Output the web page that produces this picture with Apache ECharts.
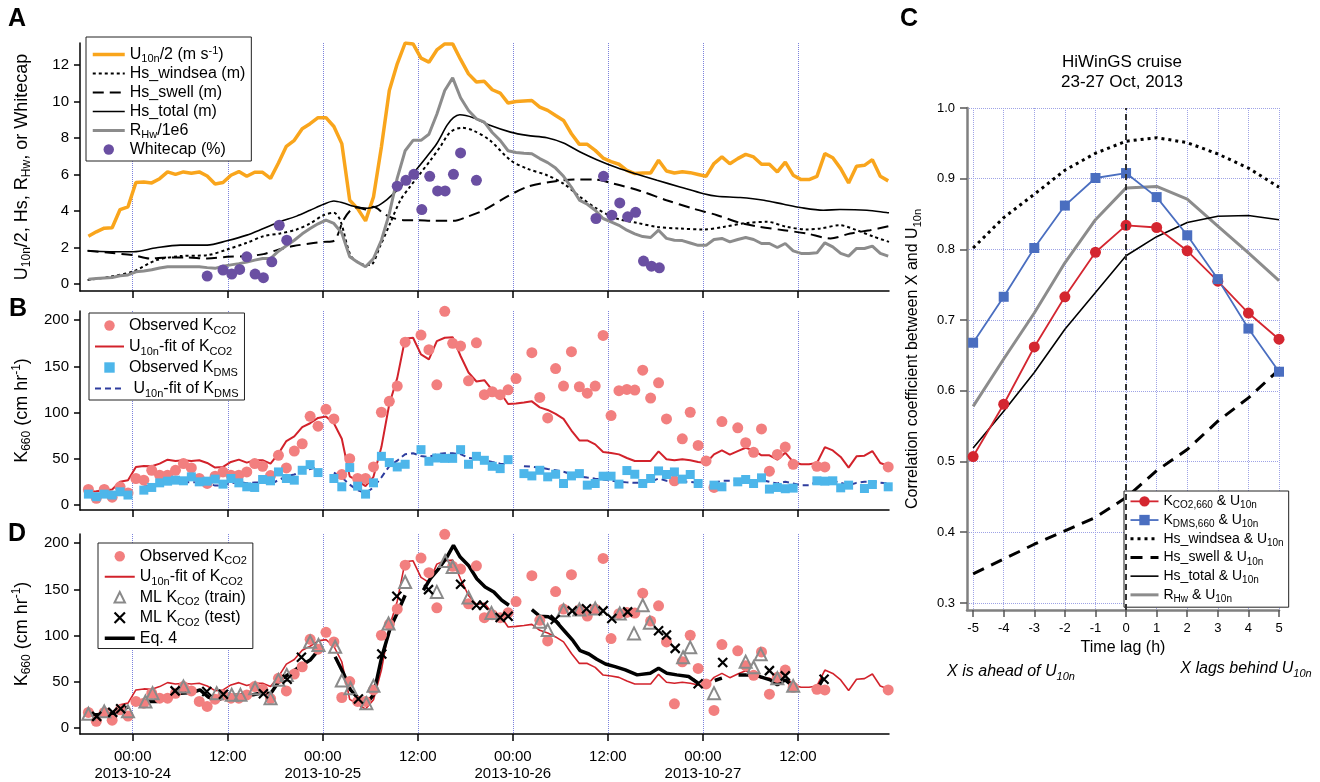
<!DOCTYPE html>
<html>
<head>
<meta charset="utf-8">
<script src="https://cdn.jsdelivr.net/npm/echarts@6/dist/echarts.min.js"></script>
<style>
html, body { margin: 0; padding: 0; background: #fff; }
#chart { width: 1320px; height: 782px; }
</style>
</head>
<body>
<div id="chart"></div>
<script>
// time axis: hours since 2013-10-24 00:00
const dayTicks = [0, 12, 24, 36, 48, 60, 72, 84];
const dayTickLabels = ['00:00\n2013-10-24', '12:00', '00:00\n2013-10-25', '12:00',
    '00:00\n2013-10-26', '12:00', '00:00\n2013-10-27', '12:00'];

// hourly samples
const hours = [-5.6, -4.6, -3.6, -2.6, -1.6, -0.6, 0.4, 1.4, 2.4, 3.4,
    4.4, 5.4, 6.4, 7.4, 8.4, 9.4, 10.4, 11.4, 12.4, 13.4,
    14.4, 15.4, 16.4, 17.4, 18.4, 19.4, 20.4, 21.4, 22.4, 23.4,
    24.4, 25.4, 26.4, 27.4, 28.4, 29.4, 30.4, 31.4, 32.4, 33.4,
    34.4, 35.4, 36.4, 37.4, 38.4, 39.4, 40.4, 41.4, 42.4, 43.4,
    44.4, 45.4, 46.4, 47.4, 48.4, 49.4, 50.4, 51.4, 52.4, 53.4,
    54.4, 55.4, 56.4, 57.4, 58.4, 59.4, 60.4, 61.4, 62.4, 63.4,
    64.4, 65.4, 66.4, 67.4, 68.4, 69.4, 70.4, 71.4, 72.4, 73.4,
    74.4, 75.4, 76.4, 77.4, 78.4, 79.4, 80.4, 81.4, 82.4, 83.4,
    84.4, 85.4, 86.4, 87.4, 88.4, 89.4, 90.4, 91.4, 92.4, 93.4,
    94.4, 95.4];

// panel A
const u10Half = [2.62, 2.86, 3.06, 3.08, 4.08, 4.23, 5.56, 5.59, 5.54, 5.77,
    6.14, 6.01, 6.14, 6.07, 6.14, 5.92, 5.48, 5.56, 5.96, 6.16,
    5.9, 6.12, 6.12, 5.79, 6.63, 7.54, 7.87, 8.51, 8.78, 9.11,
    9.11, 8.63, 7.69, 4.59, 4.13, 3.46, 4.77, 7.5, 10.6, 12.06,
    13.2, 13.15, 12.37, 12.15, 12.82, 13.15, 13.15, 12.3, 11.51, 11.06,
    11.1, 10.64, 10.46, 9.91, 10.0, 10.03, 10.05, 9.69, 9.51, 9.23,
    8.96, 8.23, 7.65, 7.65, 7.32, 6.9, 6.7, 6.56, 6.23, 6.05,
    6.08, 6.08, 6.78, 6.19, 6.08, 6.15, 6.1, 6.0, 5.9, 6.6,
    6.96, 6.59, 6.87, 7.1, 6.96, 6.56, 6.56, 6.14, 6.68, 5.96,
    5.72, 5.72, 5.9, 7.14, 6.92, 6.32, 5.54, 6.45, 6.5, 6.81,
    5.9, 5.65];
const rhw = [0.27, 0.3, 0.33, 0.36, 0.45, 0.5, 0.67, 0.72, 0.78, 0.88,
    0.95, 0.95, 0.95, 0.95, 0.95, 0.9, 0.86, 0.98, 1.05, 1.12,
    1.2, 1.31, 1.4, 1.4, 1.8, 2.1, 2.4, 2.75, 3.04, 3.3,
    3.5, 3.32, 2.8, 1.49, 1.2, 0.95, 1.4, 2.4, 3.86, 5.8,
    7.3, 7.87, 7.87, 8.2, 9.3, 10.6, 11.29, 10.2, 9.5, 9.05,
    8.87, 8.3, 7.87, 7.3, 7.2, 7.16, 7.14, 6.87, 6.65, 6.35,
    5.9, 5.3, 4.6, 4.37, 4.04, 3.59, 3.41, 3.22, 2.95, 2.75,
    2.6, 2.55, 2.95, 2.5, 2.4, 2.38, 2.25, 2.12, 2.12, 2.44,
    2.5, 2.31, 2.44, 2.55, 2.44, 2.22, 2.22, 2.0, 2.22, 1.82,
    1.68, 1.68, 1.71, 2.26, 2.04, 1.68, 1.53, 1.95, 1.95, 2.08,
    1.68, 1.53];
const tTotal = [-5.7, -2.9, 0.1, 3.0, 6.0, 9.4, 11.9, 14.4, 16.5, 18.6,
    20.7, 22.4, 24.1, 25.4, 26.6, 27.9, 29.6, 30.8, 32.1, 33.4,
    34.6, 35.9, 37.1, 38.4, 39.7, 40.5, 41.3, 43.0, 45.1, 47.7,
    49.8, 52.3, 54.4, 56.5, 58.6, 61.1, 63.7, 66.2, 69.1, 72.1,
    73.8, 76.7, 79.7, 82.2, 84.3, 87.2, 89.3, 92.7, 95.5];
const hsTotal = [1.82, 1.77, 1.77, 1.99, 2.13, 2.13, 2.37, 2.68, 3.04, 3.41,
    3.72, 4.04, 4.37, 4.55, 4.44, 4.26, 4.15, 4.26, 4.63, 5.14,
    5.68, 6.32, 6.96, 7.7, 8.7, 9.11, 9.27, 9.11, 8.69, 8.32,
    8.14, 8.01, 7.72, 7.23, 6.81, 6.38, 6.01, 5.68, 5.32, 4.95,
    4.81, 4.74, 4.59, 4.37, 4.19, 4.04, 4.08, 4.04, 3.9];
const tWindsea = [-5.7, -2.9, 0.1, 3.0, 6.0, 9.4, 11.9, 14.4, 16.5, 18.6,
    20.7, 22.4, 24.1, 25.4, 26.2, 27.5, 28.7, 30.0, 31.2, 32.5,
    33.8, 35.0, 36.3, 37.6, 38.8, 40.1, 41.6, 43.0, 45.1, 47.7,
    49.8, 52.3, 54.4, 56.5, 58.6, 61.1, 63.7, 66.2, 69.1, 72.1,
    74.6, 77.6, 80.1, 82.6, 85.1, 86.8, 89.3, 91.4, 93.6, 95.5];
const hsWindsea = [0.22, 0.4, 0.7, 1.31, 1.53, 1.58, 1.89, 2.26, 2.62, 2.77,
    2.99, 3.32, 3.77, 3.9, 3.5, 1.58, 1.13, 1.04, 2.04, 3.32,
    4.59, 5.32, 6.05, 6.78, 7.5, 8.32, 8.56, 8.41, 7.87, 6.78,
    6.32, 5.96, 5.5, 4.77, 4.13, 3.59, 3.35, 3.13, 3.04, 2.99,
    3.13, 3.35, 3.41, 3.13, 2.99, 3.04, 3.22, 2.95, 2.59, 2.31];
const tSwell = [-5.7, -2.9, 0.1, 2.2, 4.3, 6.8, 9.4, 11.9, 14.4, 16.5,
    18.2, 20.3, 22.4, 24.1, 25.4, 26.6, 27.5, 28.3, 29.6, 30.4,
    31.7, 32.7, 34.2, 35.9, 37.9, 40.5, 42.2, 44.3, 47.2, 49.8,
    52.7, 55.7, 58.2, 60.7, 64.1, 67.4, 70.8, 73.8, 76.7, 79.2,
    82.2, 85.1, 88.1, 90.6, 93.1, 95.5];
const hsSwell = [1.82, 1.71, 1.58, 1.4, 1.46, 1.46, 1.4, 1.49, 1.53, 1.64,
    1.86, 2.08, 2.22, 2.31, 2.37, 3.5, 4.04, 4.19, 4.08, 4.23,
    3.86, 3.64, 3.5, 3.5, 3.46, 3.46, 3.68, 4.04, 4.77, 5.32,
    5.59, 5.72, 5.72, 5.5, 5.1, 4.59, 4.13, 3.77, 3.35, 3.13,
    2.95, 2.77, 2.5, 2.77, 2.95, 3.17];
const tWhitecap = [9.4, 11.4, 12.5, 13.5, 14.4, 15.45, 16.5, 17.56, 18.5, 19.45,
    33.4, 34.5, 35.5, 36.5, 37.5, 38.5, 39.45, 40.5, 41.4, 43.4,
    58.5, 59.45, 60.5, 61.5, 62.5, 63.5, 64.5, 65.5, 66.5];
const whitecap = [0.44, 0.77, 0.55, 0.8, 1.49, 0.55, 0.35, 1.22, 3.22, 2.4,
    5.36, 5.68, 6.01, 4.08, 5.9, 5.1, 5.1, 6.01, 7.18, 5.68,
    3.59, 5.9, 3.77, 4.44, 3.68, 3.93, 1.26, 0.98, 0.89];

// panel B (and D)
const kco2Obs = [16.8, 7.2, 16.8, 8.5, 19.7, 13, 28.7, 26.9, 37.6, 32.3,
    32.3, 37.6, 44.8, 40.1, 28.7, 23.3, 31.2, 35.8, 32.3, 32.3,
    35.8, 44.8, 41.9, 31.9, 53.8, 40.1, 58.4, 66.3, 96, 85.3,
    103.6, 93.2, 33, 50.2, 28.7, 28.7, 41.2, 100.4, 112.2, 128.7,
    176.3, null, 183.9, 168.1, 130.1, 209.7, 175, 172, 134.4, 175.6,
    119.4, 122.6, 119.4, 124.7, 136.9, null, 164.9, 116.5, 94.3, 147.7,
    128.7, 166, 128, 121.1, 128.7, 183.5, 96.8, 123.7, 125.1, 124.4,
    145.9, 115.8, 132.3, 93.2, 26.2, 71.7, 100.4, 64.5, 47.7, 19,
    90.3, null, 83.5, 67.4, 57, 82.4, 36.6, 54.8, 62.7, 44.1,
    null, null, 41.9, 41.2, null, null, null, null, null, null,
    null, 41.2];
const kco2Fit = [14.3, 15, 16.1, 16.8, 25.1, 26.9, 41.2, 42.3, 41.9, 44.8,
    49.1, 47.7, 48.4, 47.7, 48.4, 45.5, 40.5, 41.2, 46.6, 49.1,
    45.9, 48.4, 48.4, 44.8, 55.6, 69.2, 74.2, 84.2, 88.5, 94.3,
    95.7, 88.5, 71.7, 31, 26, 20.5, 30.5, 62.7, 109.3, 137.3,
    180, 181, 163, 157.7, 177.4, 181, 181.7, 161.3, 143.4, 133.7,
    135.1, 124.4, 121.9, 109.3, 110, 111, 112.2, 105.7, 102.9, 98.6,
    93.2, 80.6, 69.9, 69.9, 65.6, 57.3, 56.3, 54.8, 50.9, 47.7,
    47.7, 47.7, 58.1, 49.5, 48.4, 49.5, 48.4, 46.6, 45.5, 54.8,
    59.1, 54.5, 58.4, 62, 59.1, 53.8, 53.8, 49.1, 56.6, 46.6,
    44.1, 44.1, 45.5, 62.7, 59.1, 52, 40.5, 52.7, 53.4, 58.4,
    45.5, 42.3];
const kdmsObs = [11.8, 9, 11.8, 10.8, 14.3, 10.8, null, 16.1, 19, 24,
    25.8, 26.9, 26.2, 30.5, 25.1, 25.8, 28, 22.6, 28.7, 24,
    19.7, 19, 27.6, 26.2, 35.8, 28.7, 26.9, 37.6, 43.7, 35.1,
    null, 28.7, 19.7, 40.5, 20.4, 11.8, 24, 52.7, 45.9, 41.2,
    44.1, null, 59.9, 47.3, 50.9, 50.5, 50.5, 59.9, 44.1, 52.7,
    48.4, 41.9, 39.4, 49.1, null, 34, 31.5, 37.6, 30.5, 33.3,
    23.3, 31.5, 34, 21.5, 23.3, 31.2, 31.2, 22.6, 37.3, 33.3,
    23.3, 28.7, 36.9, 33, 35.8, 28, 33, 23.3, null, 21.5,
    19.7, null, 25.1, 27.6, 23.3, 29.4, 17.2, 19, 17.6, 18.3,
    null, null, 26.2, 25.8, 26.2, 18.6, 21.5, null, 17.9, 22.2,
    null, 19.7];
const kdmsFit = [9.7, 10, 10.8, 11.5, 14.3, 15, null, 20, 20.5, 22,
    24.5, 24, 25, 24.5, 25, 24, 21, 21.5, 23.5, 25,
    23.5, 24.5, 24.5, 22.5, 27, 31, 33, 37, 39, 41,
    null, 35, 30, 22, 16, 13, 19, 30, 42, 48,
    55, 56, 53, 52, 55, 56, 56, 55, 51, 50,
    48.5, 46.6, 44.8, 44, null, 42, 41.5, 40.5, 39, 37.6,
    36, 33.3, 31, 29.7, 28.5, 27.6, 26.5, 25.1, 24.5, 24,
    24, 25.1, 28.7, 26.2, 25.1, 25.1, 25.1, 24, null, 24,
    26.2, 26.2, 26.9, 27.6, 26.2, 26.9, 25.1, 23.3, 25.1, 23.3,
    21.5, 21.5, 25.1, 27.6, 26.2, 24, 21.5, 24, 25.1, 25.1,
    24, 23.3];

// panel D
const tTrain = [-5.6, -3.6, -0.6, 1.6, 2.5, 6.4, 10.6, 12.5, 13.6, 15.45,
    17.4, 18.4, 19.45, 22.4, 23.45, 25.56, 26.4, 27.5, 29.5, 30.4,
    32.3, 34.4, 38.4, 39.45, 40.4, 42.4, 45.3, 51.4, 52.4, 54.4,
    56.4, 58.4, 61.5, 63.3, 64.4, 65.3, 69.5, 70.4, 73.4, 77.4,
    78.4, 79.3, 81.4, 83.4];
const mlTrain = [15.4, 18, 18, 28.7, 37.7, 44.9, 37.7, 35.9, 35.9, 43.1,
    32.3, 52.1, 57.5, 93.4, 89.8, 88, 51.4, 43.1, 26.9, 45.6,
    113.1, 158, 147.3, 180.7, 174.2, 141.2, 124.6, 114.9, 106, 127.5,
    128.2, 129.3, 123.9, 102.4, 132.9, 113.9, 76.5, 87.3, 37.7, 71.8,
    65.7, 79.7, 53.9, 45.6];
const tTest = [-4.55, -2.53, -1.52, 5.35, 9.35, 11.45, 16.5, 19.5, 21.3, 28.5,
    31.45, 33.35, 37.35, 41.4, 43.4, 44.3, 46.4, 47.4, 53.35, 55.5,
    57.3, 59.4, 60.5, 62.5, 66.4, 67.4, 68.5, 71.4, 74.5, 80.4,
    82.4, 87.3];
const mlTest = [12.6, 16.9, 20.8, 40.2, 39.5, 36.6, 37, 52.8, 76.5, 31.3,
    80.1, 142.6, 149.8, 155.5, 132.9, 132.9, 119.6, 121, 117.5, 126.8,
    129, 126.8, 118.5, 125.7, 105.2, 100.6, 86.2, 47.8, 70.8, 62.1,
    56.4, 52.8];
// null = gap in the Eq. 4 line
const tEq4 = [-5.73, -4.55, -2.44, -1.52, -0.55, 0.5,
    1.56, 3.03, 4.5, 6.0, 7.45, 8.5, 9.56, 10.6, 11.87, 13.56, 15.2, 16.5, 17.4, 18.6, 19.9, 21.1, 22.4, 23.45, 24.5,
    25.56, 26.6, 27.5, 28.5, 29.56, 30.4, 31.45, 32.5, 33.56, 34.4, 35.5,
    36.7, 37.6, 38.6, 39.6, 40.5, 41.35, 42.4, 43.45, 44.5, 45.6, 46.6, 47.5, 49,
    50.4, 51.4, 52.5, 53.5, 54.6, 55.6, 56.5, 57.6, 58.6, 59.7, 60.9, 62.2, 63.7, 65.35, 66.4, 67.45, 68.7, 70.2, 71.4, 72.5,
    73.5, 74.4, 75.5,
    76.5, 78, 79.2, 80.5, 81.4, 82.4, 83.4, 85,
    86.4, 87.2];
const eq4 = [14.4, 14.4, 15.4, 20.5, 22.6, null,
    28.7, 28.7, 32.3, 37.7, 38.4, 41.3, 33.4, 29.8, 34.1, 35.9, 35.9, 38.4, 37, 52.1, 59.3, 66.5, 73.6, 84.4, null,
    77.2, 59.3, 41.3, 32.3, 26.9, 35.9, 77.2, 107.8, 127.5, 143.7, null,
    149.1, 162, 172, 184, 197.6, 185, 176, 161.6, 152.7, 147.3, 138.3, 132.9, null,
    128.2, 121, 120.3, 114.9, 104.2, 94.5, 83.7, 80.1, 74.4, 69.3, 66.5, 62.9, 57.5, 59.3, 64.7, 59.3, 57.5, 55.7, 48.5, null,
    51.4, 53.9, null,
    57.5, 57.5, 55.7, 52.1, 46.7, 52.1, 44.9, null,
    41.3, 53.9];

// panel C: lag correlations
const lags = [-5, -4, -3, -2, -1, 0, 1, 2, 3, 4, 5];
const corrKco2 = [0.507, 0.581, 0.662, 0.733, 0.796, 0.834, 0.831, 0.798, 0.755, 0.710, 0.673];
const corrKdms = [0.668, 0.733, 0.802, 0.862, 0.901, 0.908, 0.874, 0.820, 0.758, 0.688, 0.627];
const corrWindsea = [0.802, 0.845, 0.878, 0.912, 0.936, 0.953, 0.958, 0.951, 0.935, 0.915, 0.888];
const corrSwell = [0.341, 0.362, 0.383, 0.402, 0.421, 0.449, 0.487, 0.517, 0.557, 0.590, 0.630];
const corrTotal = [0.519, 0.571, 0.626, 0.687, 0.739, 0.791, 0.818, 0.838, 0.847, 0.848, 0.842];
const corrRhw = [0.578, 0.645, 0.710, 0.781, 0.842, 0.887, 0.889, 0.871, 0.833, 0.795, 0.756];
const lagTicks = [-5, -4, -3, -2, -1, 0, 1, 2, 3, 4, 5];
const corrTicks = [0.3, 0.4, 0.5, 0.6, 0.7, 0.8, 0.9, 1.0];

const FONT = '"Liberation Sans", Arial, sans-serif';
const zip = (xs, ys) => xs.map((x, i) => [x, ys[i]]);

const rich = (size) => ({
    sub: { fontSize: size, lineHeight: size, verticalAlign: 'bottom', fontFamily: FONT, color: '#000' },
    sup: { fontSize: size, lineHeight: size, verticalAlign: 'top', fontFamily: FONT, color: '#000' }
});

const legendText = {
    'U10n/2 (m s-1)': 'U{sub|10n}/2 (m s{sup|-1})',
    'RHw/1e6': 'R{sub|Hw}/1e6',
    'Observed KCO2': 'Observed K{sub|CO2}',
    'U10n-fit of KCO2': 'U{sub|10n}-fit of K{sub|CO2}',
    'Observed KDMS': 'Observed K{sub|DMS}',
    'U10n-fit of KDMS': ' U{sub|10n}-fit of K{sub|DMS}',
    'ML KCO2 (train)': 'ML K{sub|CO2} (train)',
    'ML KCO2 (test)': 'ML K{sub|CO2} (test)',
    'KCO2,660 & U10n': 'K{sub|CO2,660} & U{sub|10n}',
    'KDMS,660 & U10n': 'K{sub|DMS,660} & U{sub|10n}',
    'Hs_windsea & U10n': 'Hs_windsea & U{sub|10n}',
    'Hs_swell & U10n': 'Hs_swell & U{sub|10n}',
    'Hs_total & U10n': 'Hs_total & U{sub|10n}',
    'RHw & U10n': 'R{sub|Hw} & U{sub|10n}'
};

const makeLegend = (names, left, top, opts) => ({
    data: names,
    orient: 'vertical',
    left, top,
    itemWidth: opts.itemWidth,
    itemHeight: 13,
    itemGap: 0,
    padding: opts.padding,
    borderColor: '#222',
    borderWidth: 1,
    backgroundColor: '#fff',
    selectedMode: false,
    lineStyle: { width: 'inherit' },
    itemStyle: { borderWidth: 'inherit' },
    formatter: name => legendText[name] || name,
    textStyle: {
        fontFamily: FONT, fontSize: opts.fontSize, color: '#000',
        lineHeight: opts.lineHeight, rich: rich(opts.subSize)
    }
});

const timeAxis = (gridIndex, showLabels) => ({
    type: 'value', gridIndex, min: -6.66, max: 95.5,
    axisLine: { show: true, onZero: false, lineStyle: { color: '#000', width: 1.5 } },
    axisTick: { show: true, length: 7, customValues: dayTicks, lineStyle: { color: '#000', width: 1.5 } },
    axisLabel: {
        show: showLabels, customValues: dayTicks, margin: 14, fontSize: 15, lineHeight: 17,
        fontFamily: FONT, color: '#000',
        formatter: v => dayTickLabels[dayTicks.indexOf(v)]
    },
    splitLine: { show: true, lineStyle: { color: '#7c82dc', type: 'dotted', width: 1 } }
});

const kAxis = (gridIndex, min) => ({
    type: 'value', gridIndex, min, max: 210,
    name: 'K{sub|660} (cm hr{sup|-1})', nameLocation: 'middle', nameGap: 41,
    nameTextStyle: { fontFamily: FONT, fontSize: 18, color: '#000', lineHeight: 22, rich: rich(12) },
    axisLine: { show: true, onZero: false, lineStyle: { color: '#000', width: 1.5 } },
    axisTick: { show: true, length: 6, customValues: [0, 50, 100, 150, 200], lineStyle: { color: '#000', width: 1.5 } },
    axisLabel: { customValues: [0, 50, 100, 150, 200], margin: 11, fontSize: 15, fontFamily: FONT, color: '#000' },
    splitLine: { show: false }
});

const ORANGE = '#F9A51C';
const GRAY = '#8C8C8C';
const PURPLE = '#6A4FA2';
const SALMON = '#F27F7F';
const RED = '#D2222B';
const SKY = '#4DB6EA';
const NAVY = '#2E3D9E';
const C_RED = '#D42630';
const C_BLUE = '#4A6EC0';

// plain line: its legend icon hides the marker
const line = (name, x, y, data, color, width, type, extra) => Object.assign({
    name, type: 'line', xAxisIndex: x, yAxisIndex: y, data, symbol: 'none',
    lineStyle: { color, width, type }, itemStyle: { color, opacity: 0 }, connectNulls: false
}, extra || {});

// marker-only series drawn as a line series with no visible line, so the legend keeps the marker's aspect
const points = (name, x, y, data, symbol, size, itemStyle) => ({
    name, type: 'line', xAxisIndex: x, yAxisIndex: y, data, symbol, symbolSize: size,
    showSymbol: true, showAllSymbol: true, connectNulls: false,
    lineStyle: { width: 0, opacity: 0, color: 'rgba(0,0,0,0)' }, itemStyle
});

const chart = echarts.init(document.getElementById('chart'));

chart.setOption({
    animation: false,
    backgroundColor: '#fff',
    textStyle: { fontFamily: FONT },
    grid: [
        { left: 80, top: 43, width: 809, height: 248 },
        { left: 80, top: 311, width: 809, height: 199 },
        { left: 80, top: 534, width: 809, height: 200 },
        { left: 967, top: 108, width: 312, height: 502 }
    ],
    xAxis: [
        timeAxis(0, false),
        timeAxis(1, false),
        timeAxis(2, true),
        {
            type: 'value', gridIndex: 3, min: -5.2, max: 5,
            name: 'Time lag (h)', nameLocation: 'middle', nameGap: 29,
            nameTextStyle: { fontFamily: FONT, fontSize: 16, color: '#000' },
            axisLine: { show: true, onZero: false, lineStyle: { color: '#808080', width: 2.5 } },
            axisTick: { show: true, length: 7, customValues: lagTicks, lineStyle: { color: '#555', width: 1.5 } },
            axisLabel: { customValues: lagTicks, margin: 12, fontSize: 13, fontFamily: FONT, color: '#000' },
            splitLine: { show: true, lineStyle: { color: '#9ea3e6', type: 'dotted', width: 1 } }
        }
    ],
    yAxis: [
        {
            type: 'value', gridIndex: 0, min: -0.38, max: 13.2,
            name: 'U{sub|10n}/2, Hs, R{sub|Hw}, or Whitecap', nameLocation: 'middle', nameGap: 47,
            nameTextStyle: { fontFamily: FONT, fontSize: 18, color: '#000', lineHeight: 22, rich: rich(12) },
            axisLine: { show: true, onZero: false, lineStyle: { color: '#000', width: 1.5 } },
            axisTick: { show: true, length: 6, customValues: [0, 2, 4, 6, 8, 10, 12], lineStyle: { color: '#000', width: 1.5 } },
            axisLabel: { customValues: [0, 2, 4, 6, 8, 10, 12], margin: 11, fontSize: 15, fontFamily: FONT, color: '#000' },
            splitLine: { show: false }
        },
        kAxis(1, -5.4),
        kAxis(2, -6.5),
        {
            type: 'value', gridIndex: 3, min: 0.29, max: 1.0,
            name: 'Correlation coefficient between X and U{sub|10n}', nameLocation: 'middle', nameGap: 44,
            nameTextStyle: { fontFamily: FONT, fontSize: 16, color: '#000', lineHeight: 20, rich: rich(11) },
            axisLine: { show: true, onZero: false, lineStyle: { color: '#808080', width: 2.5 } },
            axisTick: { show: true, length: 7, customValues: corrTicks, lineStyle: { color: '#555', width: 1.5 } },
            axisLabel: { customValues: corrTicks, margin: 12, fontSize: 13, fontFamily: FONT, color: '#000', formatter: v => v.toFixed(1) },
            splitLine: { show: true, lineStyle: { color: '#9ea3e6', type: 'dotted', width: 1 } }
        }
    ],
    legend: [
        makeLegend(['U10n/2 (m s-1)', 'Hs_windsea (m)', 'Hs_swell (m)', 'Hs_total (m)', 'RHw/1e6', 'Whitecap (%)'],
            86, 37, { itemWidth: 32, padding: [8, 6, 2, 5], fontSize: 16, lineHeight: 19, subSize: 11 }),
        makeLegend(['Observed KCO2', 'U10n-fit of KCO2', 'Observed KDMS', 'U10n-fit of KDMS'],
            89, 313, { itemWidth: 29, padding: [2, 6, 1, 5], fontSize: 16, lineHeight: 21, subSize: 11 }),
        makeLegend(['Observed KCO2', 'U10n-fit of KCO2', 'ML KCO2 (train)', 'ML KCO2 (test)', 'Eq. 4'],
            98, 543, { itemWidth: 30, padding: [3, 6, 0, 5], fontSize: 16, lineHeight: 20.5, subSize: 11 }),
        makeLegend(['KCO2,660 & U10n', 'KDMS,660 & U10n', 'Hs_windsea & U10n', 'Hs_swell & U10n', 'Hs_total & U10n', 'RHw & U10n'],
            1124, 491, { itemWidth: 28, padding: [1, 5, 3, 5], fontSize: 14, lineHeight: 18.7, subSize: 10 })
    ],
    graphic: [
        { type: 'text', x: 8, y: 19, style: { text: 'A', font: 'bold 25px ' + FONT, verticalAlign: 'middle', fill: '#000' } },
        { type: 'text', x: 9, y: 309, style: { text: 'B', font: 'bold 25px ' + FONT, verticalAlign: 'middle', fill: '#000' } },
        { type: 'text', x: 8, y: 534, style: { text: 'D', font: 'bold 25px ' + FONT, verticalAlign: 'middle', fill: '#000' } },
        { type: 'text', x: 900, y: 19, style: { text: 'C', font: 'bold 25px ' + FONT, verticalAlign: 'middle', fill: '#000' } },
        { type: 'text', x: 1122, y: 62, style: { text: 'HiWinGS cruise', font: '17px ' + FONT, align: 'center', verticalAlign: 'middle', fill: '#000' } },
        { type: 'text', x: 1122, y: 82, style: { text: '23-27 Oct, 2013', font: '17px ' + FONT, align: 'center', verticalAlign: 'middle', fill: '#000' } },
        {
            type: 'text', x: 1011, y: 672,
            style: {
                text: 'X is ahead of U{sub|10n}', font: 'italic 16px ' + FONT, align: 'center', verticalAlign: 'middle',
                fill: '#000', lineHeight: 20,
                rich: { sub: { fontSize: 11, fontStyle: 'italic', fontFamily: FONT, lineHeight: 11, verticalAlign: 'bottom', fill: '#000' } }
            }
        },
        {
            type: 'text', x: 1246, y: 669,
            style: {
                text: 'X lags behind U{sub|10n}', font: 'italic 16px ' + FONT, align: 'center', verticalAlign: 'middle',
                fill: '#000', lineHeight: 20,
                rich: { sub: { fontSize: 11, fontStyle: 'italic', fontFamily: FONT, lineHeight: 11, verticalAlign: 'bottom', fill: '#000' } }
            }
        }
    ],
    series: [
        // A
        line('U10n/2 (m s-1)', 0, 0, zip(hours, u10Half), ORANGE, 3.5, 'solid'),
        line('Hs_windsea (m)', 0, 0, zip(tWindsea, hsWindsea), '#000', 2, [3, 3], { smooth: 0.3 }),
        line('Hs_swell (m)', 0, 0, zip(tSwell, hsSwell), '#000', 2, [11, 6], { smooth: 0.3 }),
        line('Hs_total (m)', 0, 0, zip(tTotal, hsTotal), '#000', 1.6, 'solid', { smooth: 0.3 }),
        line('RHw/1e6', 0, 0, zip(hours, rhw), GRAY, 3, 'solid'),
        points('Whitecap (%)', 0, 0, zip(tWhitecap, whitecap), 'circle', 11, { color: PURPLE }),
        // B
        points('Observed KCO2', 1, 1, zip(hours, kco2Obs), 'circle', 11, { color: SALMON }),
        points('Observed KDMS', 1, 1, zip(hours, kdmsObs), 'rect', 9, { color: SKY }),
        line('U10n-fit of KCO2', 1, 1, zip(hours, kco2Fit), RED, 2, 'solid'),
        line('U10n-fit of KDMS', 1, 1, zip(hours, kdmsFit), NAVY, 2, [6, 4]),
        // D
        points('Observed KCO2', 2, 2, zip(hours, kco2Obs), 'circle', 11, { color: SALMON }),
        line('U10n-fit of KCO2', 2, 2, zip(hours, kco2Fit), RED, 1.6, 'solid'),
        points('ML KCO2 (train)', 2, 2, zip(tTrain, mlTrain), 'triangle', 12,
            { color: 'rgba(0,0,0,0)', borderColor: '#8a8a8a', borderWidth: 2 }),
        line('Eq. 4', 2, 2, zip(tEq4, eq4), '#000', 3.5, 'solid'),
        points('ML KCO2 (test)', 2, 2, zip(tTest, mlTest), 'path://M0,0L10,10M10,0L0,10', 9,
            { color: 'rgba(0,0,0,0)', borderColor: '#000', borderWidth: 2.2 }),
        // C
        line('RHw & U10n', 3, 3, zip(lags, corrRhw), GRAY, 3, 'solid'),
        line('Hs_total & U10n', 3, 3, zip(lags, corrTotal), '#000', 1.6, 'solid', {
            markLine: {
                silent: true, symbol: ['none', 'none'], label: { show: false },
                lineStyle: { color: '#333', type: [6, 4], width: 2, opacity: 1 },
                data: [{ xAxis: 0 }]
            }
        }),
        line('Hs_swell & U10n', 3, 3, zip(lags, corrSwell), '#000', 3, [12, 8]),
        line('Hs_windsea & U10n', 3, 3, zip(lags, corrWindsea), '#000', 3, [3, 4]),
        line('KCO2,660 & U10n', 3, 3, zip(lags, corrKco2), C_RED, 1.8, 'solid',
            { symbol: 'circle', symbolSize: 11, itemStyle: { color: C_RED } }),
        line('KDMS,660 & U10n', 3, 3, zip(lags, corrKdms), C_BLUE, 1.8, 'solid',
            { symbol: 'rect', symbolSize: 10, itemStyle: { color: C_BLUE } })
    ]
});
</script>
</body>
</html>
